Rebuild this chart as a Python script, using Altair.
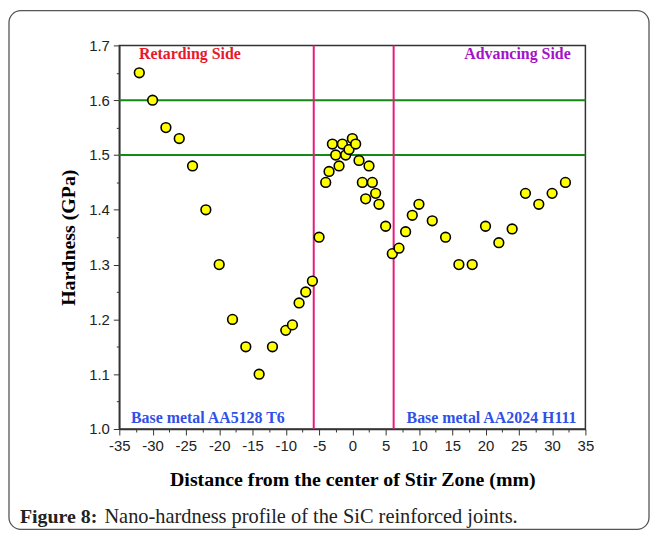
import altair as alt
import pandas as pd

# ---- data ----
distance_mm = [-32, -30, -28, -26, -24, -22, -20, -18, -16, -14, -12, -10, -9, -8, -7, -6, -5,
               -4, -3.5, -3, -2.5, -2, -1.5, -1, -0.5, 0, 0.5, 1, 1.5, 2, 2.5, 3, 3.5, 4,
               5, 6, 7, 8, 9, 10, 12, 14, 16, 18, 20, 22, 24, 26, 28, 30, 32]
hardness_gpa = [1.65, 1.60, 1.55, 1.53, 1.48, 1.40, 1.30, 1.20, 1.15, 1.10, 1.15, 1.18, 1.19, 1.23, 1.25, 1.27, 1.35,
                1.45, 1.47, 1.52, 1.50, 1.48, 1.52, 1.50, 1.51, 1.53, 1.52, 1.49, 1.45, 1.42, 1.48, 1.45, 1.43, 1.41,
                1.37, 1.32, 1.33, 1.36, 1.39, 1.41, 1.38, 1.35, 1.30, 1.30, 1.37, 1.34, 1.365, 1.43, 1.41, 1.43, 1.45]

green_levels = [1.5, 1.6]
zone_bounds = [-5.8, 6.2]

x_major = list(range(-35, 36, 5))
x_minor = [v + 2.5 for v in range(-35, 35, 5)]
y_major = [1.0, 1.1, 1.2, 1.3, 1.4, 1.5, 1.6, 1.7]
y_minor = [1.05, 1.15, 1.25, 1.35, 1.45, 1.55, 1.65]

ann_text = ["Retarding Side", "Advancing Side", "Base metal AA5128 T6", "Base metal AA2024 H111"]
ann_x = [-24.4, 24.8, -21.7, 20.9]
ann_y = [1.684, 1.684, 1.02, 1.02]
ann_color = ["#E8182C", "#A412C8", "#3050E8", "#3050E8"]

caption_bold = "Figure 8:"
caption_rest = "Nano-hardness profile of the SiC reinforced joints."

W, H = 469, 386
PAD_L, PAD_T = 112, 36
TOTAL_W, TOTAL_H = 646, 524

XDOM = [-35, 35]
YDOM = [1.0, 1.7]

pts = pd.DataFrame({"x": distance_mm, "y": hardness_gpa})
greens = pd.DataFrame({"y": green_levels})
bounds = pd.DataFrame({"x": zone_bounds})
ann = pd.DataFrame({"t": ann_text, "x": ann_x, "y": ann_y, "c": ann_color})
one = pd.DataFrame({"a": [0]})

serif = "Liberation Serif"
sans = "Liberation Sans"

xscale = alt.Scale(domain=XDOM, nice=False, zero=False)
yscale = alt.Scale(domain=YDOM, nice=False, zero=False)

frame = alt.Chart(one).mark_rect(
    fillOpacity=0, stroke="#555555", strokeWidth=1.3, cornerRadius=12
).encode(
    x=alt.value(-PAD_L + 1), x2=alt.value(TOTAL_W - PAD_L - 1),
    y=alt.value(-PAD_T + 1), y2=alt.value(TOTAL_H - PAD_T - 1),
)

green = alt.Chart(greens).mark_rule(color="#138A13", strokeWidth=2).encode(
    y=alt.Y("y:Q", scale=yscale,
            axis=alt.Axis(orient="left", values=y_minor, labels=False, title=None,
                          domain=False, grid=False, tickSize=3, tickColor="#333", tickWidth=1))
)

magenta = alt.Chart(bounds).mark_rule(color="#E8197D", strokeWidth=2).encode(
    x=alt.X("x:Q", scale=xscale,
            axis=alt.Axis(orient="bottom", values=x_minor, labels=False, title=None,
                          domain=False, grid=False, tickSize=3, tickColor="#333", tickWidth=1))
)

points = alt.Chart(pts).mark_point(
    shape="circle", filled=True, fill="#FFFF00", stroke="#000000", strokeWidth=1.6, size=95, opacity=1
).encode(
    x=alt.X("x:Q", scale=xscale,
            axis=alt.Axis(orient="bottom", values=x_major, grid=False,
                          labelExpr="datum.value < 0 ? '-' + abs(datum.value) : '' + datum.value",
                          title="Distance from the center of Stir Zone (mm)",
                          titleFont=serif, titleFontSize=20, titleFontWeight="bold", titleColor="#000",
                          titlePadding=16,
                          labelFont=sans, labelFontSize=15, labelColor="#222", labelPadding=4,
                          tickSize=6, tickColor="#333", tickWidth=1,
                          domainColor="#333", domainWidth=1.5, labelFlush=False)),
    y=alt.Y("y:Q", scale=yscale,
            axis=alt.Axis(orient="left", values=y_major, format=".1f", grid=False,
                          title="Hardness (GPa)",
                          titleFont=serif, titleFontSize=20, titleFontWeight="bold", titleColor="#000",
                          titlePadding=10,
                          labelFont=sans, labelFontSize=15, labelColor="#222", labelPadding=4,
                          tickSize=6, tickColor="#333", tickWidth=1,
                          domainColor="#333", domainWidth=1.5, labelFlush=False)),
)

labels = alt.Chart(ann).mark_text(
    font=serif, fontSize=16, fontWeight="bold", align="center", baseline="middle"
).encode(
    x=alt.X("x:Q", scale=xscale, axis=None),
    y=alt.Y("y:Q", scale=yscale, axis=None),
    text="t:N",
    color=alt.Color("c:N", scale=None),
)

cap1 = alt.Chart(one).mark_text(
    text=caption_bold, font=serif, fontSize=20, fontWeight="bold", align="left",
    baseline="middle", color="#222"
).encode(x=alt.value(20 - 8 - PAD_L), y=alt.value(519 - 8 - PAD_T))

cap2 = alt.Chart(one).mark_text(
    text=caption_rest, font=serif, fontSize=20.5, align="left", baseline="middle", color="#222"
).encode(x=alt.value(105 - 8 - PAD_L), y=alt.value(519 - 8 - PAD_T))

chart = alt.layer(frame, green, magenta, points, labels, cap1, cap2).resolve_axis(
    x="independent", y="independent"
).properties(
    width=W, height=H,
    autosize=alt.AutoSizeParams(type="none"),
    padding={"left": PAD_L, "top": PAD_T, "right": TOTAL_W - PAD_L - W, "bottom": TOTAL_H - PAD_T - H},
    background="white",
).configure_view(stroke="#333", strokeWidth=1.5)

chart.save("out.html", embed_options={"renderer": "svg", "actions": False})
